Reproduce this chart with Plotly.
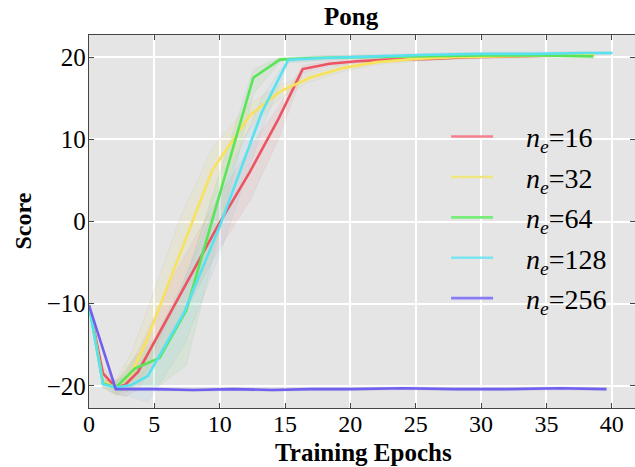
import plotly.graph_objects as go

labels = ["16", "32", "64", "128", "256"]
line_colors = ["rgb(236,84,100)", "rgb(246,226,92)", "rgb(88,230,88)", "rgb(88,226,240)", "rgb(112,96,240)"]
legend_colors = ["rgb(246,128,142)", "rgb(240,230,128)", "rgb(122,236,122)", "rgb(122,230,240)", "rgb(136,124,246)"]
band_colors = ["rgba(236,84,100,0.09)", "rgba(230,215,90,0.12)", "rgba(88,220,88,0.10)", "rgba(88,200,240,0.09)", "rgba(112,96,240,0.10)"]

x16 = [0, 1.07, 2.05, 2.75, 3.75, 6.5, 9.9, 12.3, 14.5, 16.35, 18.4, 20.5, 23, 26, 29, 32, 35, 37.5, 38.5]
y16 = [-10.2, -18.5, -20.2, -19.9, -18.3, -10.3, -0.4, 6.0, 12.5, 18.55, 19.2, 19.5, 19.7, 19.8, 20.0, 20.1, 20.2, 20.3, 20.3]
lo16 = [-10.4, -19.3, -21.0, -21.3, -20.5, -13.5, -3.5, 2.5, 10.0, 18.0, 18.9, 19.3, 19.5, 19.6, 19.8, 19.9, 20.0, 20.1, 20.1]
hi16 = [-10.0, -17.7, -19.4, -18.5, -15.8, -6.5, 3.0, 9.0, 14.0, 19.0, 19.5, 19.7, 19.9, 20.0, 20.2, 20.3, 20.4, 20.5, 20.5]

x32 = [0, 1.07, 2.05, 3.25, 4.4, 7.0, 9.45, 12.3, 14.6, 16.9, 19.5, 22, 25, 28, 31, 34, 37, 38.7]
y32 = [-10.2, -19.5, -20.2, -18.5, -14.5, -3.7, 6.3, 12.9, 15.8, 17.5, 18.7, 19.4, 19.8, 20.0, 20.1, 20.2, 20.3, 20.3]
lo32 = [-10.4, -20.2, -21.2, -20.5, -18.0, -8.5, 2.5, 11.3, 15.0, 17.0, 18.3, 19.1, 19.5, 19.8, 19.9, 20.0, 20.1, 20.1]
hi32 = [-10.0, -18.8, -19.3, -16.0, -11.0, 0.5, 9.0, 14.3, 16.6, 18.0, 19.1, 19.7, 20.1, 20.2, 20.3, 20.4, 20.5, 20.5]

x64 = [0, 1.07, 2.05, 3.5, 5.4, 7.45, 9.2, 12.57, 14.6, 17, 20, 25, 30, 35, 38.6]
y64 = [-10.2, -19.7, -20.2, -17.9, -16.6, -10.8, -1.1, 17.5, 19.7, 19.9, 20.0, 20.1, 20.2, 20.2, 20.1]
lo64 = [-10.4, -20.1, -21.0, -20.0, -20.0, -17.5, -6.0, 15.5, 19.4, 19.6, 19.8, 19.9, 20.0, 20.0, 19.9]
hi64 = [-10.0, -19.3, -19.5, -16.5, -14.0, -7.0, 2.0, 18.5, 20.0, 20.1, 20.2, 20.3, 20.4, 20.4, 20.3]

x128 = [0, 1.07, 2.05, 3.25, 4.5, 7.3, 10.0, 13.2, 15.25, 18, 22, 26, 30, 34, 38, 40.05]
y128 = [-10.2, -19.8, -20.2, -19.9, -18.8, -11.0, -0.6, 13.2, 19.7, 19.9, 20.1, 20.3, 20.4, 20.4, 20.5, 20.5]
lo128 = [-10.4, -20.2, -21.0, -21.3, -22.0, -15.0, -4.0, 11.0, 19.3, 19.6, 19.9, 20.1, 20.2, 20.2, 20.3, 20.3]
hi128 = [-10.0, -19.4, -19.4, -18.5, -16.0, -7.0, 3.0, 15.0, 20.0, 20.2, 20.3, 20.5, 20.6, 20.6, 20.7, 20.7]

x256 = [0, 2.05, 5, 8, 11, 14, 17, 20, 24, 28, 32, 36, 39.6]
y256 = [-10.2, -20.4, -20.4, -20.5, -20.4, -20.5, -20.4, -20.4, -20.3, -20.4, -20.4, -20.3, -20.4]
lo256 = [-10.3, -20.6, -20.6, -20.7, -20.6, -20.7, -20.6, -20.6, -20.5, -20.6, -20.6, -20.5, -20.6]
hi256 = [-10.1, -20.2, -20.2, -20.3, -20.2, -20.3, -20.2, -20.2, -20.1, -20.2, -20.2, -20.1, -20.2]

x_ticks = [0, 5, 10, 15, 20, 25, 30, 35, 40]
y_ticks = [-20, -10, 0, 10, 20]
y_ticktext = ["\u221220", "\u221210", "0", "10", "20"]

xs = [x16, x32, x64, x128, x256]
ys = [y16, y32, y64, y128, y256]
los = [lo16, lo32, lo64, lo128, lo256]
his = [hi16, hi32, hi64, hi128, hi256]

FONT = "Liberation Serif"
fig = go.Figure()

for i in range(5):
    fig.add_trace(go.Scatter(
        x=xs[i] + xs[i][::-1], y=his[i] + los[i][::-1],
        fill="toself", fillcolor=band_colors[i],
        line=dict(color="rgba(150,150,150,0.12)", width=0.8),
        mode="lines", showlegend=False, hoverinfo="skip"))

for i in range(5):
    fig.add_trace(go.Scatter(
        x=xs[i], y=ys[i], mode="lines",
        line=dict(color=line_colors[i], width=2.6),
        showlegend=False))

NB = "\u00a0" * 4
for i in range(5):
    fig.add_trace(go.Scatter(
        x=[None], y=[None], mode="lines",
        line=dict(color=legend_colors[i], width=2.6),
        name=NB + "<i>n</i><sub><i>e</i></sub>=" + labels[i],
        legendgroup=str(i), showlegend=True))

axis_common = dict(
    showgrid=True, gridcolor="white", gridwidth=1.6,
    zeroline=False, showline=True, linecolor="#444", linewidth=1.4,
    mirror="ticks", ticks="inside", ticklen=5, tickwidth=1.2, tickcolor="#444",
    automargin=False,
)

fig.update_layout(
    width=635, height=467,
    margin=dict(l=89, r=0, t=35, b=59),
    paper_bgcolor="white", plot_bgcolor="#E5E5E5",
    xaxis=dict(range=[0, 41.78], tickvals=x_ticks, ticklabelstandoff=-6,
               tickfont=dict(family=FONT, size=24, color="black"), **axis_common),
    yaxis=dict(range=[-22.7, 22.7], tickvals=y_ticks, ticktext=y_ticktext, ticklabelstandoff=-3,
               tickfont=dict(family=FONT, size=25, color="black"), **axis_common),
    legend=dict(x=0.654, y=0.794, xanchor="left", yanchor="top", bgcolor="rgba(0,0,0,0)",
                font=dict(family=FONT, size=28, color="black"), tracegroupgap=1,
                itemwidth=42),
    showlegend=True,
    annotations=[
        dict(text="<b>Pong</b>", xref="paper", yref="paper", x=(351 - 89) / 546, y=(408 - 17) / 373,
             xanchor="center", yanchor="middle", showarrow=False,
             font=dict(family=FONT, size=25, color="black")),
        dict(text="<b>Training Epochs</b>", xref="paper", yref="paper", x=(363 - 89) / 546, y=(408 - 452) / 373,
             xanchor="center", yanchor="middle", showarrow=False,
             font=dict(family=FONT, size=25, color="black")),
        dict(text="<b>Score</b>", xref="paper", yref="paper", x=(22 - 89) / 546, y=0.5,
             xanchor="center", yanchor="middle", showarrow=False, textangle=-90,
             font=dict(family=FONT, size=24, color="black")),
    ],
)

fig.write_html("out.html", config={"displayModeBar": False},
               post_script="document.body.style.margin='0';document.body.style.overflow='hidden';")
